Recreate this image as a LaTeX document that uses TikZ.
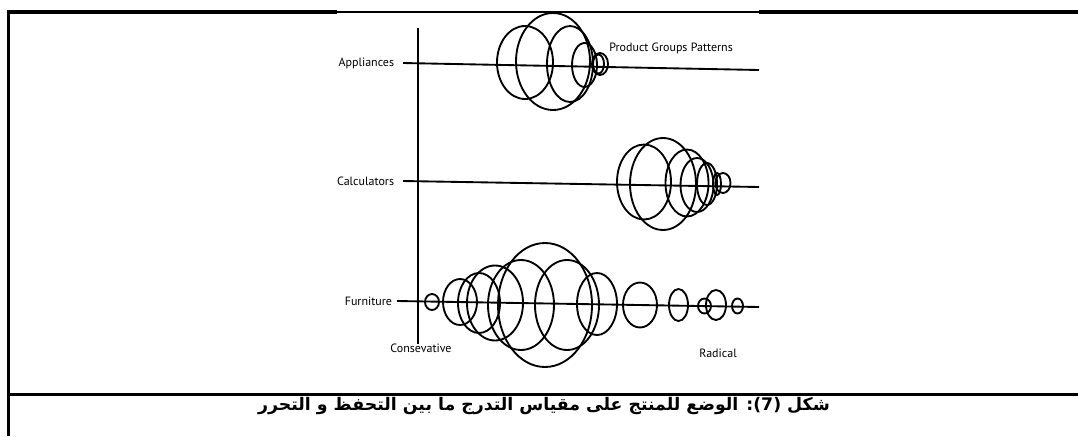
\documentclass[tikz,border=0pt]{standalone}
\usepackage{fontspec}
\setmainfont{PT Sans}
\newfontfamily\arabicfont[Script=Arabic]{DejaVu Sans}
\TeXXeTstate=1
\usetikzlibrary{positioning}

\begin{document}
\begin{tikzpicture}[x=0.75pt,y=-0.75pt,
        frame/.style={line width=2.3pt},
        axis/.style={line width=1.4pt},
        ring/.style={line width=1.4pt},
    group/.style={font=\fontsize{9}{10}\selectfont, inner sep=0pt},
        caption/.style={font=\arabicfont\bfseries\fontsize{13}{15}\selectfont, inner sep=0pt}
]
    \useasboundingbox (0,0) rectangle (1078,436);
    % table frame
    \draw[frame] (8.5,436) -- (8.5,12) -- (337,12);
    \draw[frame] (759,12) -- (1078,12);
    \draw[line width=0.8pt] (337,12) -- (759,12);
    \draw[frame] (8.5,394.5) -- (1078,394.5);
    % axis
    \coordinate (axT) at (418,28);
    \coordinate (axB) at (418,344);
    \draw[axis] (axT) -- (axB);
    % product lines
    \coordinate (appS) at (403,63);
    \coordinate (appE) at (759,70);
    \coordinate (calS) at (403,181);
    \coordinate (calE) at (759,187);
    \coordinate (furS) at (397,301);
    \coordinate (furE) at (759,307);
    \node[group, left=6.5pt of appS] (app) {Appliances};
    \node[group, left=6.5pt of calS] (cal) {Calculators};
    \node[group, left=3.5pt of furS] (fur) {Furniture};
    \draw[axis] (appS) -- (appE);
    \draw[axis] (calS) -- (calE);
    \draw[axis] (furS) -- (furE);
    \node[group, anchor=west] (pgp) at (609,48) {Product Groups Patterns};
    \node[group] (cons) at (421,348) {Consevative};
    \node[group] (rad) at (718,353) {Radical};
    % appliances
    \foreach \cx/\cy/\rx/\ry in {525/62.5/28/36.5, 553/61.5/37/48.5, 570/64/23/38,
        584.5/65/12.5/22, 600/64/8/11, 598.5/64/5.5/9.5}
        \draw[ring] (\cx,\cy) ellipse [x radius=\rx, y radius=\ry];
    % calculators
    \foreach \cx/\cy/\rx/\ry in {644/182/27/37.5, 663/184/33/46, 687/183/21.5/33.5,
        697/185/16.5/27, 707/184/10/21, 717/184/4/11, 723/183/7.5/10}
        \draw[ring] (\cx,\cy) ellipse [x radius=\rx, y radius=\ry];
    % furniture
    \foreach \cx/\cy/\rx/\ry in {432/302/7/8, 460/302/17/23, 479/303/21/30,
        495/303/28/37.5, 521/305/33/45, 545/305/47/62, 567/305/32/45,
        597/304/20/31, 640/305/17/22.5, 678.5/305/9.5/16, 704.5/306/6.5/7.5,
        716/305/10/15, 737.5/306/5.5/7.5}
        \draw[ring] (\cx,\cy) ellipse [x radius=\rx, y radius=\ry];
    % caption
    \node[caption] (cap) at (544,406) {\beginR شكل \beginL(7)\endL: الوضع للمنتج على مقياس التدرج ما بين التحفظ و التحرر\endR};
\end{tikzpicture}
\end{document}
